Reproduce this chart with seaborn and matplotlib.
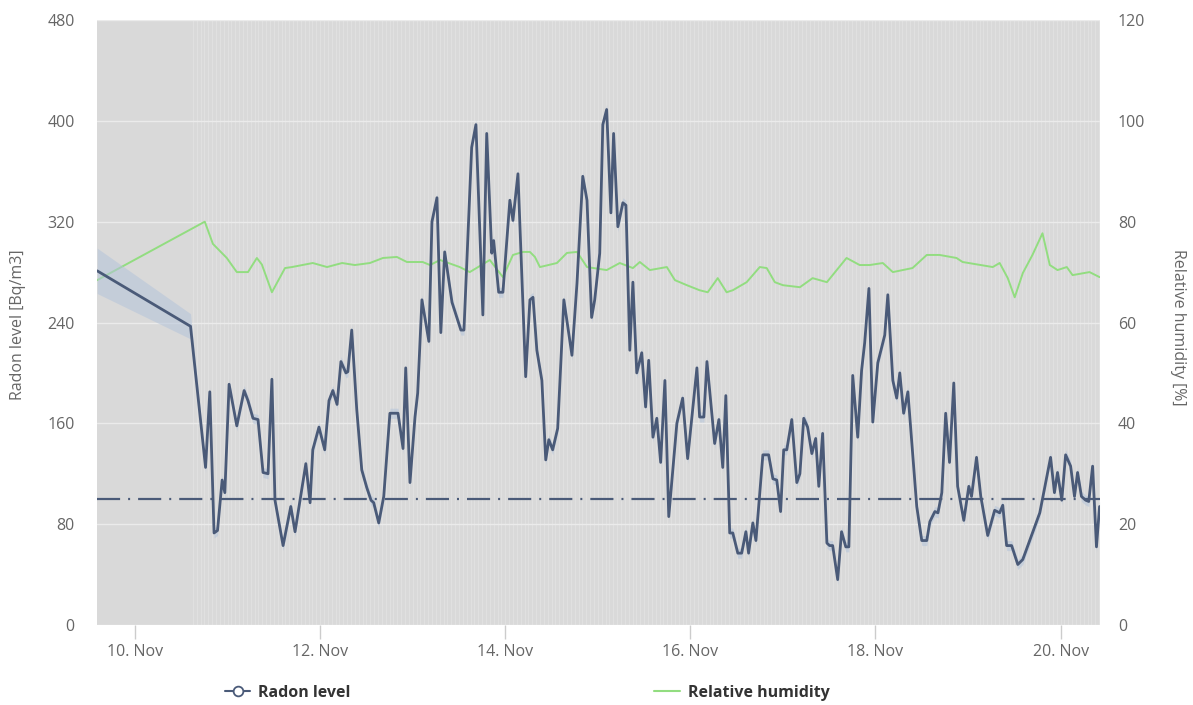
import numpy as np
import pandas as pd
import matplotlib
matplotlib.use("Agg")
import matplotlib.pyplot as plt
import matplotlib.dates as mdates
from matplotlib.lines import Line2D
import seaborn as sns

# ---- data (hours after 10 Nov 00:00) ----
radon_hours = [-9.8, 14.4, 18.3, 19.4, 20.5, 21.4, 22.6, 23.3, 24.4, 26.4, 28.3, 29.3, 30.6, 31.9,
               33.2, 34.5, 35.5, 36.3, 38.4, 40.4, 41.5, 44.3, 45.4, 46.1, 47.7, 49.2, 50.3, 51.3,
               52.4, 53.4, 54.7, 55.2, 56.2, 57.5, 58.8, 60.1, 61.2, 61.9, 63.2, 64.5, 66.1, 68.2,
               69.5, 70.2, 71.3, 72.6, 73.3, 74.4, 76.2, 77.0, 78.3, 79.3, 80.3, 82.2, 84.5, 85.3,
               87.3, 88.4, 90.2, 91.2, 92.5, 93.0, 94.3, 95.4, 97.2, 98.0, 99.3, 101.3, 102.4, 103.2,
               104.2, 105.5, 106.5, 107.3, 108.3, 109.6, 111.2, 113.3, 114.6, 116.1, 117.2, 118.4,
               119.2, 120.5, 121.3, 122.3, 123.4, 124.1, 125.2, 126.5, 127.3, 128.3, 129.1, 130.1,
               131.4, 132.4, 133.2, 134.3, 135.3, 136.3, 137.4, 138.4, 140.5, 142.0, 143.3, 145.7,
               146.4, 147.5, 148.3, 150.3, 151.4, 152.4, 153.2, 154.2, 155.0, 156.3, 157.3, 158.4,
               159.1, 160.2, 161.0, 162.8, 164.3, 165.4, 166.4, 167.4, 168.2, 169.0, 170.3, 171.6,
               172.4, 173.4, 174.4, 175.5, 176.5, 177.3, 178.3, 179.4, 180.1, 180.9, 182.2, 183.2,
               184.3, 185.1, 186.1, 187.4, 188.4, 189.2, 190.3, 191.3, 192.6, 194.4, 195.2, 196.5,
               197.5, 198.3, 199.3, 200.4, 202.7, 204.0, 205.3, 206.1, 207.4, 208.2, 209.2, 210.2,
               211.2, 212.3, 213.3, 214.9, 216.2, 216.9, 218.2, 219.3, 221.1, 222.9, 224.2, 225.0,
               226.0, 227.3, 228.9, 230.2, 234.6, 237.4, 238.4, 239.2, 240.3, 241.3, 242.6, 243.6,
               244.4, 245.4, 246.5, 247.3, 248.3, 249.3, 250.1]
radon_level = [281, 237, 125, 185, 73, 75, 115, 105, 191, 158, 186, 178, 164, 163,
               121, 120, 195, 99, 63, 94, 74, 128, 97, 139, 157, 139, 178, 186,
               175, 209, 200, 201, 234, 171, 123, 109, 99, 97, 81, 102, 168, 168,
               140, 204, 113, 165, 184, 258, 225, 320, 339, 232, 296, 256, 234, 234,
               379, 397, 246, 390, 295, 305, 264, 264, 337, 321, 358, 197, 258, 260,
               218, 194, 131, 147, 139, 156, 258, 214, 271, 356, 337, 244,
               258, 295, 397, 409, 327, 390, 316, 335, 333, 218, 272, 200,
               216, 173, 210, 149, 164, 129, 194, 86, 160, 180, 132, 204,
               165, 165, 209, 144, 163, 125, 182, 73, 73, 57, 57, 74,
               57, 81, 67, 135, 135, 116, 115, 90, 139, 139, 163, 113,
               120, 164, 157, 136, 148, 110, 152, 65, 63, 63, 36, 74,
               62, 62, 198, 149, 202, 224, 267, 161, 208, 230, 262, 194,
               180, 200, 168, 185, 94, 67, 67, 82, 90, 89, 105, 168,
               129, 192, 110, 83, 110, 102, 133, 102, 71, 91, 89, 95,
               63, 63, 48, 52, 89, 133, 105, 121, 99, 135, 126, 102,
               121, 102, 99, 98, 126, 62, 94]
# uncertainty half-width of the radon estimate (wide over the sparse start)
radon_spread = np.full(len(radon_level), 4.0)
radon_spread[:2] = [18, 10]

humidity_hours = [-9.8, 18.1, 20.2, 23.8, 26.4, 29.3, 31.6, 32.9, 35.5, 38.9, 40.7, 46.1, 49.8,
                  53.7, 57.0, 60.9, 64.3, 67.9, 70.5, 74.6, 76.5, 79.1, 84.2, 86.8, 92.0, 95.4,
                  98.0, 100.6, 102.4, 103.7, 105.0, 109.4, 112.0, 114.6, 117.2, 122.3, 125.7,
                  129.1, 130.9, 133.5, 137.9, 140.0, 143.1, 146.4, 148.5, 151.1, 153.4, 155.0,
                  158.6, 162.0, 163.8, 165.9, 168.0, 172.4, 175.7, 179.4, 184.5, 187.9, 190.5,
                  193.9, 196.5, 201.6, 205.3, 208.6, 213.0, 214.6, 222.4, 224.2, 226.3, 228.1,
                  230.2, 232.7, 235.3, 237.2, 239.2, 241.6, 243.1, 247.5, 250.1]
humidity = [68.4, 80.0, 75.6, 72.8, 70.0, 70.0, 72.8, 71.5, 66.0, 70.8, 71.0, 71.8, 71.0,
            71.8, 71.4, 71.8, 72.8, 73.0, 72.0, 72.0, 71.4, 72.4, 71.0, 70.0, 72.4, 69.0,
            73.4, 74.0, 74.0, 73.0, 71.0, 71.8, 73.8, 74.0, 71.0, 70.4, 71.8,
            70.8, 72.0, 70.4, 71.0, 68.4, 67.4, 66.4, 66.0, 68.8, 66.0, 66.4,
            68.0, 71.0, 70.8, 68.0, 67.4, 67.0, 68.8, 68.0, 72.8, 71.4, 71.4,
            71.8, 70.0, 70.8, 73.4, 73.4, 72.8, 72.0, 71.0, 71.8, 68.8, 65.0,
            69.8, 73.4, 77.7, 71.4, 70.4, 71.0, 69.4, 70.0, 69.0]

reference_level = 100
radon_ticks = [0, 80, 160, 240, 320, 400, 480]
humidity_ticks = [0, 20, 40, 60, 80, 100, 120]
date_ticks = ["2023-11-10", "2023-11-12", "2023-11-14", "2023-11-16", "2023-11-18", "2023-11-20"]

# ---- build frames ----
start = pd.Timestamp("2023-11-10")
radon_df = pd.DataFrame({
    "time": start + pd.to_timedelta(radon_hours, unit="h"),
    "radon": radon_level,
})
radon_df["lo"] = radon_df["radon"] - radon_spread
radon_df["hi"] = radon_df["radon"] + radon_spread
hum_df = pd.DataFrame({
    "time": start + pd.to_timedelta(humidity_hours, unit="h"),
    "humidity": humidity,
})

# ---- style ----
sns.set_theme(style="white")
plt.rcParams["font.family"] = ["Open Sans", "DejaVu Sans"]

RADON = "#4a5a78"
GREEN = "#92dd80"
TEXT = "#666666"

fig = plt.figure(figsize=(11.93, 7.05), dpi=100)
ax = fig.add_axes([0.0813, 0.1135, 0.8407, 0.8581])
ax2 = ax.twinx()
ax.set_zorder(ax2.get_zorder() + 1)
ax.patch.set_visible(False)
ax2.patch.set_visible(True)
ax2.set_facecolor("#d9d9d9")

# hourly stripes behind the dense sampling period
for t in pd.date_range(radon_df["time"].iloc[1].ceil("h"), radon_df["time"].iloc[-1], freq="h"):
    ax2.axvline(t, color="#e2e2e2", lw=0.6, zorder=0.3)

ax2.set_axisbelow(True)
ax2.yaxis.grid(True, color="#ebebeb", lw=1.0)
ax2.xaxis.grid(False)

sns.lineplot(data=hum_df, x="time", y="humidity", ax=ax2, color=GREEN, lw=1.4, legend=False)

ax.fill_between(radon_df["time"], radon_df["lo"], radon_df["hi"], color="#b4c4da", alpha=0.55, lw=0)
sns.lineplot(data=radon_df, x="time", y="radon", ax=ax, color=RADON, lw=2.0, legend=False)
ax.axhline(reference_level, color=RADON, lw=1.6, linestyle=(0, (10.4, 3.6, 0.9, 3.6)))

# ---- axes ----
ax.set_xlim(start + pd.Timedelta(hours=-9.85), start + pd.Timedelta(hours=250.2))
ax.set_ylim(0, 480)
ax2.set_ylim(0, 120)
ax.set_yticks(radon_ticks)
ax2.set_yticks(humidity_ticks)
ax.set_xticks(pd.to_datetime(date_ticks))
ax.xaxis.set_major_formatter(mdates.DateFormatter("%d. %b"))
ax.set_xlabel("")
ax.set_ylabel("")
ax2.set_ylabel("")

ax.tick_params(axis="x", bottom=True, length=10, width=1, color="#cccccc", pad=4,
               labelsize=11.5, labelcolor=TEXT)
ax.tick_params(axis="y", left=False, length=0, pad=16, labelsize=11.5, labelcolor=TEXT)
ax2.tick_params(axis="y", right=False, length=0, pad=13, labelsize=11.5, labelcolor=TEXT)
for a in (ax, ax2):
    for s in a.spines.values():
        s.set_visible(False)

fig.text(18 / 1193, 1 - 325 / 705, "Radon level [Bq/m3]", rotation=90,
         ha="center", va="center", fontsize=11.5, color=TEXT)
fig.text(1178 / 1193, 1 - 327 / 705, "Relative humidity [%]", rotation=270,
         ha="center", va="center", fontsize=11.5, color=TEXT)

handles = [
    Line2D([], [], color=RADON, lw=1.5, marker="o", markersize=7,
           markerfacecolor="white", markeredgecolor=RADON, markeredgewidth=1.3),
    Line2D([], [], color=GREEN, lw=1.5),
]
fig.legend(handles, ["Radon level", "Relative humidity"], loc="center",
           bbox_to_anchor=(0.442, 0.017), ncol=2, frameon=False, columnspacing=19,
           handlelength=1.6, handletextpad=0.5,
           prop={"size": 11.5, "weight": "bold"}, labelcolor="#333333")

fig.savefig("out.png", dpi=100)
